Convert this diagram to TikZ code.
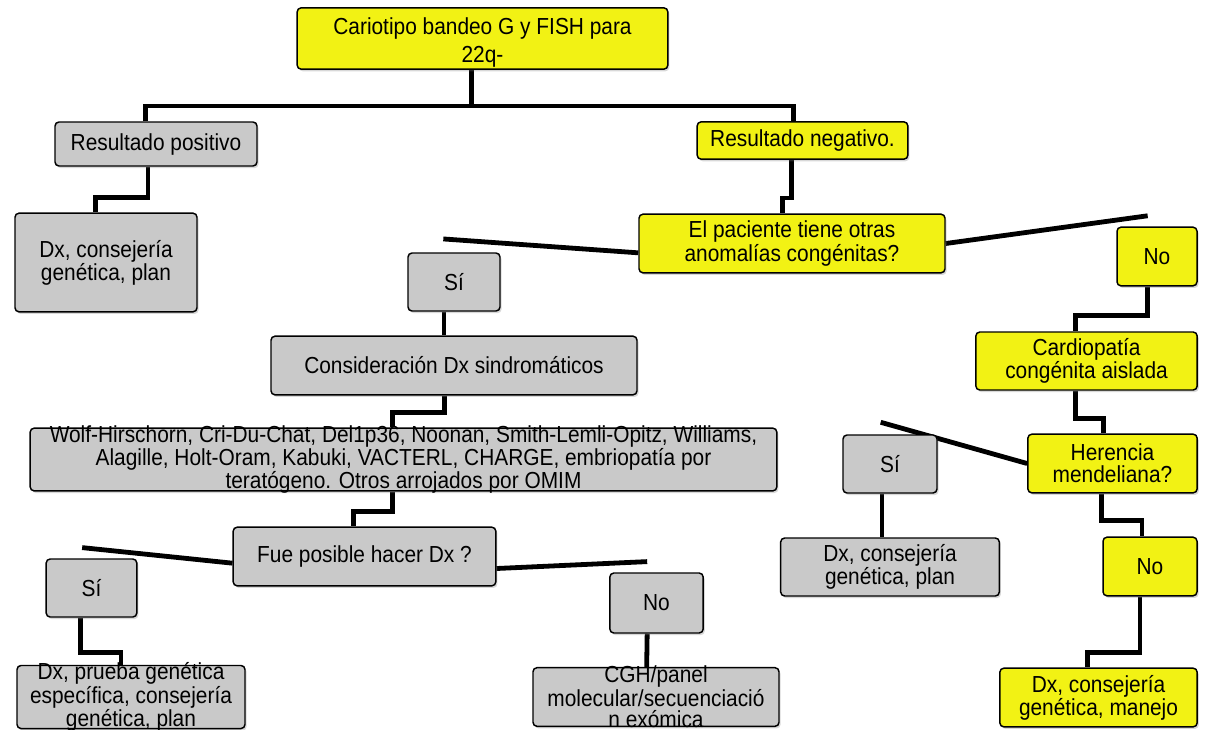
\documentclass[tikz,border=0pt]{standalone}
\usepackage{fontspec}
\setmainfont{Liberation Sans}[FakeStretch=0.9]
\usepackage{xcolor}
\definecolor{yelc}{HTML}{F2F214}
\definecolor{grayc}{HTML}{C9C9C9}
\usetikzlibrary{shadows,backgrounds}
\tikzset{
  lk/.style={draw=black,line width=3.6pt},
  tight/.style={inner ysep=-2pt},
}

\begin{document}
\begin{tikzpicture}[x=0.75pt,y=-0.75pt,
  box/.style={draw=black,line width=1.1pt,rounded corners=3pt,minimum height=44pt,inner xsep=1pt,inner ysep=0pt,align=center,
    font=\fontsize{17.4}{16.3}\selectfont,drop shadow={shadow xshift=1.2pt,shadow yshift=-1.6pt,opacity=0.3}},
  ybox/.style={box,fill=yelc},
  gbox/.style={box,fill=grayc}]
  \useasboundingbox (0,0) rectangle (1209,729);
  \node[ybox,minimum width=278pt,minimum height=46pt,text height=40pt,font=\fontsize{17.4}{21.5}\selectfont] (cario) at (482.5,38.5) {Cariotipo bandeo G y FISH para\\22q-};
  \node[gbox,minimum width=151.5pt,minimum height=33pt] (pos) at (156,144) {Resultado positivo};
  \node[gbox,minimum width=136.5pt,minimum height=74pt] (dxpos) at (106,262.5) {Dx, consejería\\genética, plan};
  \node[ybox,minimum width=158pt,minimum height=28pt] (neg) at (802.5,140.5) {Resultado negativo.};
  \node[ybox,minimum width=229.5pt] (pac) at (792,243.5) {El paciente tiene otras\\anomalías congénitas?};
  \node[ybox,minimum width=60pt] (noA) at (1157,256.5) {No};
  \node[gbox,minimum width=69pt,minimum height=43.5pt] (siA) at (454,282) {Sí};
  \node[gbox,minimum width=274.5pt] (cons) at (454,365.5) {Consideración Dx sindromáticos};
  \node[gbox,tight,minimum width=560pt,minimum height=47pt] (wolf) at (403.5,459.5) {Wolf-Hirschorn, Cri-Du-Chat, Del1p36, Noonan, Smith-Lemli-Opitz, Williams,\\Alagille, Holt-Oram, Kabuki, VACTERL, CHARGE, embriopatía por\\teratógeno. Otros arrojados por OMIM};
  \node[gbox,minimum width=197pt] (fue) at (364.5,556.5) {Fue posible hacer Dx ?};
  \node[gbox,minimum width=68pt,minimum height=43.5pt] (siB) at (91.5,588) {Sí};
  \node[gbox,minimum width=70pt,minimum height=45pt] (noB) at (656.5,603) {No};
  \node[gbox,tight,minimum width=171pt] (dxprueba) at (131,697) {Dx, prueba genética\\específica, consejería\\genética, plan};
  \node[gbox,tight,minimum width=184.5pt] (cgh) at (656,697) {CGH/panel\\molecular/secuenciació\\n exómica};
  \node[ybox,minimum width=166pt,minimum height=43.5pt] (cardio) at (1086.5,361) {Cardiopatía\\congénita aislada};
  \node[ybox,minimum width=127pt] (her) at (1112.5,463.5) {Herencia\\mendeliana?};
  \node[gbox,minimum width=70.5pt,minimum height=43.5pt] (siC) at (890,464) {Sí};
  \node[gbox,minimum width=164pt,minimum height=43.5pt] (dxC) at (890,567) {Dx, consejería\\genética, plan};
  \node[ybox,minimum width=70.5pt] (noC) at (1150,566.5) {No};
  \node[ybox,minimum width=148pt] (dxman) at (1098.5,697.5) {Dx, consejería\\genética, manejo};
  \begin{scope}[on background layer]
    \fill[white] (0,0) rectangle (1209,729);
    \draw[lk] ([xshift=-8pt]cario.south) -- ++(0,36) coordinate (split);
    \draw[lk] ([xshift=-8pt]pos.north) |- (split) -| ([xshift=-7pt]neg.north);
    \draw[lk] ([xshift=-6pt]pos.south) -- ++(0,31) -| ([xshift=-8pt]dxpos.north);
    \draw[lk] ([xshift=-8pt]neg.south) -- ++(0,38) -| ([xshift=-7pt]pac.north);
    \draw[lk] (pac.east) -- ([xshift=-7pt,yshift=8pt]noA.north);
    \draw[lk] ([yshift=-7pt]pac.west) -- ([xshift=-8pt,yshift=10pt]siA.north);
    \draw[lk] ([xshift=-7.5pt]siA.south) -- ([xshift=-7.5pt]cons.north);
    \draw[lk] ([xshift=-7pt]cons.south) -- ++(0,17) -| ([xshift=-8pt]wolf.north);
    \draw[lk] ([xshift=-8pt]wolf.south) -- ++(0,20) -| ([xshift=-8.5pt]fue.north);
    \draw[lk] ([yshift=-5pt]fue.west) -- ([xshift=-7pt,yshift=8pt]siB.north);
    \draw[lk] ([yshift=-9pt]fue.east) -- ([xshift=-7pt,yshift=8pt]noB.north);
    \draw[lk] ([xshift=-8.5pt]siB.south) -- ++(0,35) -| ([xshift=-7.5pt]dxprueba.north);
    \draw[lk] ([xshift=-7pt]noB.south) -- ([xshift=-7pt]cgh.north);
    \draw[lk] ([xshift=-7pt]noA.south) -- ++(0,29) -| ([xshift=-8.5pt]cardio.north);
    \draw[lk] ([xshift=-8.5pt]cardio.south) -- ++(0,28) -| ([xshift=-7pt]her.north);
    \draw[lk] (her.west) -- ([xshift=-7pt,yshift=9pt]siC.north);
    \draw[lk] ([xshift=-6pt]siC.south) -- ([xshift=-6pt]dxC.north);
    \draw[lk] ([xshift=-8.5pt]her.south) -- ++(0,27) -| ([xshift=-6pt]noC.north);
    \draw[lk] ([xshift=-7.5pt]noC.south) -- ++(0,56) -| ([xshift=-8.5pt]dxman.north);
  \end{scope}
\end{tikzpicture}
\end{document}
